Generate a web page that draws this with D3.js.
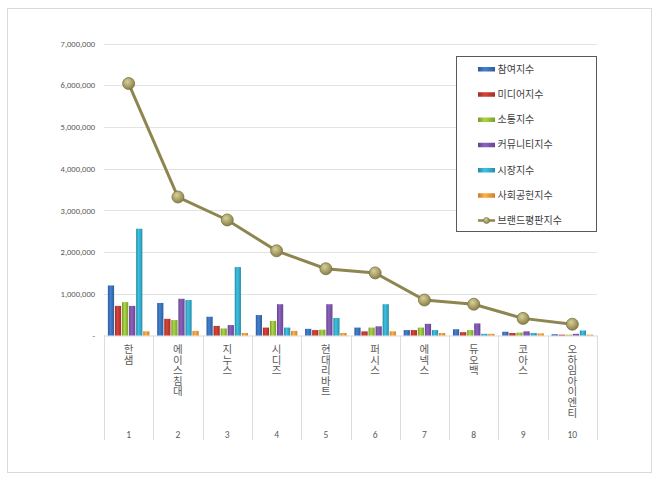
<!DOCTYPE html>
<html>
<head>
<meta charset="utf-8">
<script src="https://cdn.jsdelivr.net/npm/d3@7"></script>
<style>
  body { margin: 0; background: #fff; }
  svg { display: block; font-family: "Noto Sans CJK KR", "Malgun Gothic", sans-serif; }
</style>
</head>
<body>
<div id="chart"></div>
<script>
// brand names and ranks (x axis)
var brands = ["한샘", "에이스침대", "지누스", "시디즈", "현대리바트", "퍼시스", "에넥스", "듀오백", "코아스", "오하임아이엔티"];
var ranks = ["1", "2", "3", "4", "5", "6", "7", "8", "9", "10"];

// bar series
var seriesNames = ["참여지수", "미디어지수", "소통지수", "커뮤니티지수", "시장지수", "사회공헌지수"];
var participation = [1200000, 780000, 450000, 490000, 160000, 190000, 130000, 150000, 90000, 30000];
var media = [710000, 400000, 230000, 190000, 130000, 100000, 130000, 80000, 60000, 20000];
var communication = [800000, 370000, 170000, 350000, 140000, 190000, 190000, 130000, 70000, 20000];
var community = [710000, 880000, 250000, 750000, 750000, 220000, 280000, 290000, 100000, 40000];
var market = [2560000, 850000, 1640000, 190000, 420000, 750000, 130000, 40000, 60000, 120000];
var social = [100000, 110000, 60000, 110000, 60000, 100000, 60000, 40000, 50000, 20000];

// line series
var lineName = "브랜드평판지수";
var reputation = [6040000, 3320000, 2770000, 2030000, 1600000, 1500000, 850000, 750000, 410000, 270000];

var yTicks = [0, 1000000, 2000000, 3000000, 4000000, 5000000, 6000000, 7000000];

var seriesValues = [participation, media, communication, community, market, social];
var colors = ["#3a6fb8", "#c0392f", "#94bb3a", "#7b54a8", "#33a9c8", "#f29a3a"];

var width = 660, height = 481;
var plot = { left: 104, right: 597, top: 43.5, bottom: 335.5 };

var svg = d3.select("#chart").append("svg")
    .attr("width", width)
    .attr("height", height);

// gradients to mimic the shiny bars
var defs = svg.append("defs");
colors.forEach(function(c, i) {
  var g = defs.append("linearGradient")
    .attr("id", "grad" + i)
    .attr("x1", "0%").attr("x2", "100%").attr("y1", "0%").attr("y2", "0%");
  g.append("stop").attr("offset", "0%").attr("stop-color", d3.color(c).darker(0.6));
  g.append("stop").attr("offset", "40%").attr("stop-color", d3.color(c).brighter(0.4));
  g.append("stop").attr("offset", "100%").attr("stop-color", d3.color(c).darker(0.5));
});
var mg = defs.append("radialGradient").attr("id", "markerGrad")
  .attr("cx", "40%").attr("cy", "35%").attr("r", "65%");
mg.append("stop").attr("offset", "0%").attr("stop-color", "#d8d09a");
mg.append("stop").attr("offset", "100%").attr("stop-color", "#8a8148");

// outer frame
svg.append("rect")
  .attr("x", 7.5).attr("y", 8.5)
  .attr("width", 644).attr("height", 464)
  .attr("fill", "#fff")
  .attr("stroke", "#d9d9d9");

var x = d3.scaleBand()
  .domain(brands)
  .range([plot.left, plot.right])
  .paddingInner(0)
  .paddingOuter(0);

var xInner = d3.scaleBand()
  .domain(d3.range(seriesNames.length))
  .range([0, x.bandwidth()])
  .paddingInner(0.12)
  .paddingOuter(0.55);

var y = d3.scaleLinear()
  .domain([0, 7000000])
  .range([plot.bottom, plot.top]);

// gridlines
svg.append("g")
  .selectAll("line")
  .data(yTicks.slice(1))
  .join("line")
  .attr("x1", plot.left).attr("x2", plot.right)
  .attr("y1", function(d) { return Math.round(y(d)) + 0.5; })
  .attr("y2", function(d) { return Math.round(y(d)) + 0.5; })
  .attr("stroke", "#e3e3e3");

// y axis
var yAxis = svg.append("g")
  .attr("transform", "translate(" + (plot.left - 6) + ",0)")
  .call(d3.axisLeft(y)
    .tickValues(yTicks)
    .tickSize(0)
    .tickFormat(function(d) { return d === 0 ? "-" : d3.format(",")(d); }));
yAxis.select(".domain").remove();
yAxis.selectAll("text")
  .attr("fill", "#595959")
  .style("font-family", "Calibri, 'Liberation Sans', Arial, sans-serif")
  .style("font-size", "8.5px");

// x axis line and category separators
svg.append("line")
  .attr("x1", plot.left).attr("x2", plot.right)
  .attr("y1", plot.bottom + 0.5).attr("y2", plot.bottom + 0.5)
  .attr("stroke", "#d9d9d9");

var bounds = brands.map(function(b) { return x(b); }).concat([plot.right]);
svg.append("g")
  .selectAll("line")
  .data(bounds)
  .join("line")
  .attr("x1", function(d) { return Math.round(d) + 0.5; })
  .attr("x2", function(d) { return Math.round(d) + 0.5; })
  .attr("y1", plot.bottom)
  .attr("y2", 440)
  .attr("stroke", "#dcdcdc");

// bars
seriesValues.forEach(function(vals, si) {
  svg.append("g")
    .selectAll("rect")
    .data(vals)
    .join("rect")
    .attr("x", function(d, i) { return x(brands[i]) + xInner(si); })
    .attr("width", xInner.bandwidth())
    .attr("y", function(d) { return y(d); })
    .attr("height", function(d) { return plot.bottom - y(d); })
    .attr("fill", "url(#grad" + si + ")");
});

// brand reputation line
var line = d3.line()
  .x(function(d, i) { return x(brands[i]) + x.bandwidth() / 2; })
  .y(function(d) { return y(d); });

svg.append("path")
  .datum(reputation)
  .attr("d", line)
  .attr("fill", "none")
  .attr("stroke", "#8e8650")
  .attr("stroke-width", 3);

svg.append("g")
  .selectAll("circle")
  .data(reputation)
  .join("circle")
  .attr("cx", function(d, i) { return x(brands[i]) + x.bandwidth() / 2; })
  .attr("cy", function(d) { return y(d); })
  .attr("r", 6)
  .attr("fill", "url(#markerGrad)")
  .attr("stroke", "#7a7240")
  .attr("stroke-width", 0.8);

// vertical brand labels, one character per row
var labels = svg.append("g")
  .selectAll("text")
  .data(brands)
  .join("text")
  .attr("fill", "#595959")
  .attr("text-anchor", "middle")
  .style("font-size", "10.5px");
labels.each(function(b) {
  var t = d3.select(this);
  Array.from(b).forEach(function(ch, k) {
    t.append("tspan")
      .attr("x", x(b) + x.bandwidth() / 2)
      .attr("y", 353 + k * 10.6)
      .text(ch);
  });
});

// rank numbers
svg.append("g")
  .selectAll("text")
  .data(ranks)
  .join("text")
  .attr("x", function(d, i) { return x(brands[i]) + x.bandwidth() / 2; })
  .attr("y", 437.5)
  .attr("text-anchor", "middle")
  .attr("fill", "#595959")
  .style("font-family", "Calibri, 'Liberation Sans', Arial, sans-serif")
  .style("font-size", "9.5px")
  .text(function(d) { return d; });

// legend
var legend = svg.append("g");
legend.append("rect")
  .attr("x", 456.5).attr("y", 56.5)
  .attr("width", 140).attr("height", 175)
  .attr("fill", "#fff")
  .attr("stroke", "#595959");

var legendNames = seriesNames.concat([lineName]);
var ly = d3.scalePoint()
  .domain(legendNames)
  .range([69, 220.5]);

var items = legend.selectAll("g")
  .data(legendNames)
  .join("g")
  .attr("transform", function(d) { return "translate(0," + ly(d) + ")"; });

items.filter(function(d, i) { return i < seriesNames.length; })
  .append("rect")
  .attr("x", 478).attr("y", -2)
  .attr("width", 17).attr("height", 4.5)
  .attr("fill", function(d, i) { return "url(#grad" + i + ")"; });

var lineItem = items.filter(function(d) { return d === lineName; });
lineItem.append("line")
  .attr("x1", 478).attr("x2", 495)
  .attr("y1", 0).attr("y2", 0)
  .attr("stroke", "#8e8650").attr("stroke-width", 2.5);
lineItem.append("circle")
  .attr("cx", 486.5).attr("cy", 0).attr("r", 3)
  .attr("fill", "url(#markerGrad)")
  .attr("stroke", "#7a7240").attr("stroke-width", 0.6);

items.append("text")
  .attr("x", 497.5)
  .attr("y", 0)
  .attr("dy", "0.36em")
  .attr("fill", "#404040")
  .style("font-size", "10px")
  .text(function(d) { return d; });
</script>
</body>
</html>
